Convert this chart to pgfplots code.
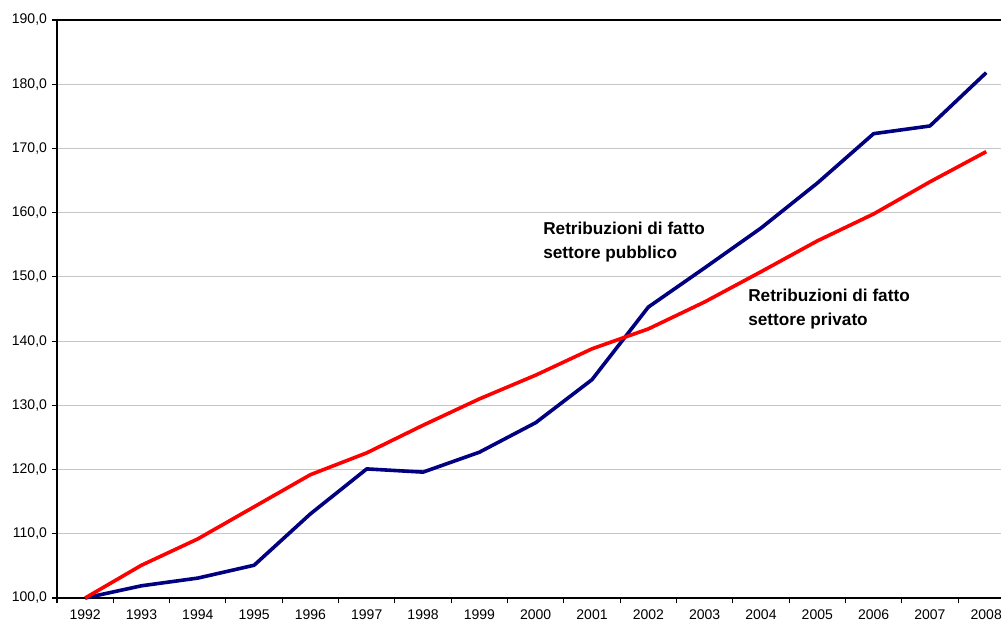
\documentclass[border=0pt]{standalone}
\usepackage{pgfplots}
\pgfplotsset{compat=1.18}
\usepackage{fontspec}
\setmainfont{Liberation Sans}
\definecolor{pubblue}{RGB}{0,0,128}
\definecolor{privred}{RGB}{255,0,0}
\begin{document}
\begin{tikzpicture}[x=1pt,y=1pt]
\begin{axis}[
  at={(0pt,0pt)}, anchor=south west,
  scale only axis,
  width=718.05pt, height=433.5pt,
  xmin=-0.5, xmax=16.5,
  ymin=100, ymax=190,
  xtick={0,...,16},
  xticklabels={1992,1993,1994,1995,1996,1997,1998,1999,2000,2001,2002,2003,2004,2005,2006,2007,2008},
  major x tick style={draw=none},
  minor xtick={-0.5,0.5,...,16.5},
  ytick={100,110,...,190},
  tick pos=left,
  tick align=outside,
  major tick length=4pt,
  minor tick length=4pt,
  tick style={black, line width=0.8pt},
  ymajorgrids,
  major grid style={gray!45, line width=0.6pt},
  axis line style={black, line width=0.9pt},
  ticklabel style={font=\fontsize{10.5}{12}\selectfont},
  /pgf/number format/.cd, fixed, fixed zerofill, precision=1, use comma, assume math mode=true,
  /pgfplots/.cd,
  xticklabel style={yshift=-1pt},
  clip=false,
]
\addplot[pubblue, line width=2.7pt, line join=round] coordinates {
(0,100.0) (1,101.9) (2,103.1) (3,105.1) (4,113.1) (5,120.1) (6,119.6) (7,122.7) (8,127.3) (9,134.0) (10,145.3) (11,151.4) (12,157.6) (13,164.6) (14,172.3) (15,173.5) (16,181.8)};
\addplot[privred, line width=2.7pt, line join=round] coordinates {
(0,100.0) (1,105.1) (2,109.2) (3,114.2) (4,119.2) (5,122.6) (6,126.9) (7,131.0) (8,134.7) (9,138.8) (10,141.9) (11,146.1) (12,150.8) (13,155.6) (14,159.8) (15,164.8) (16,169.5)};
\node[anchor=north west, align=left, font=\bfseries\fontsize{12.9}{18}\selectfont, inner sep=0pt] at (axis cs:8.13,158.6) {Retribuzioni di fatto\\settore pubblico};
\node[anchor=north west, align=left, font=\bfseries\fontsize{12.9}{18}\selectfont, inner sep=0pt] at (axis cs:11.77,148.1) {Retribuzioni di fatto\\settore privato};
\end{axis}
\pgfresetboundingbox
\path (-42.75pt,-20.25pt) rectangle (708pt,448.5pt);
\end{tikzpicture}
\end{document}
